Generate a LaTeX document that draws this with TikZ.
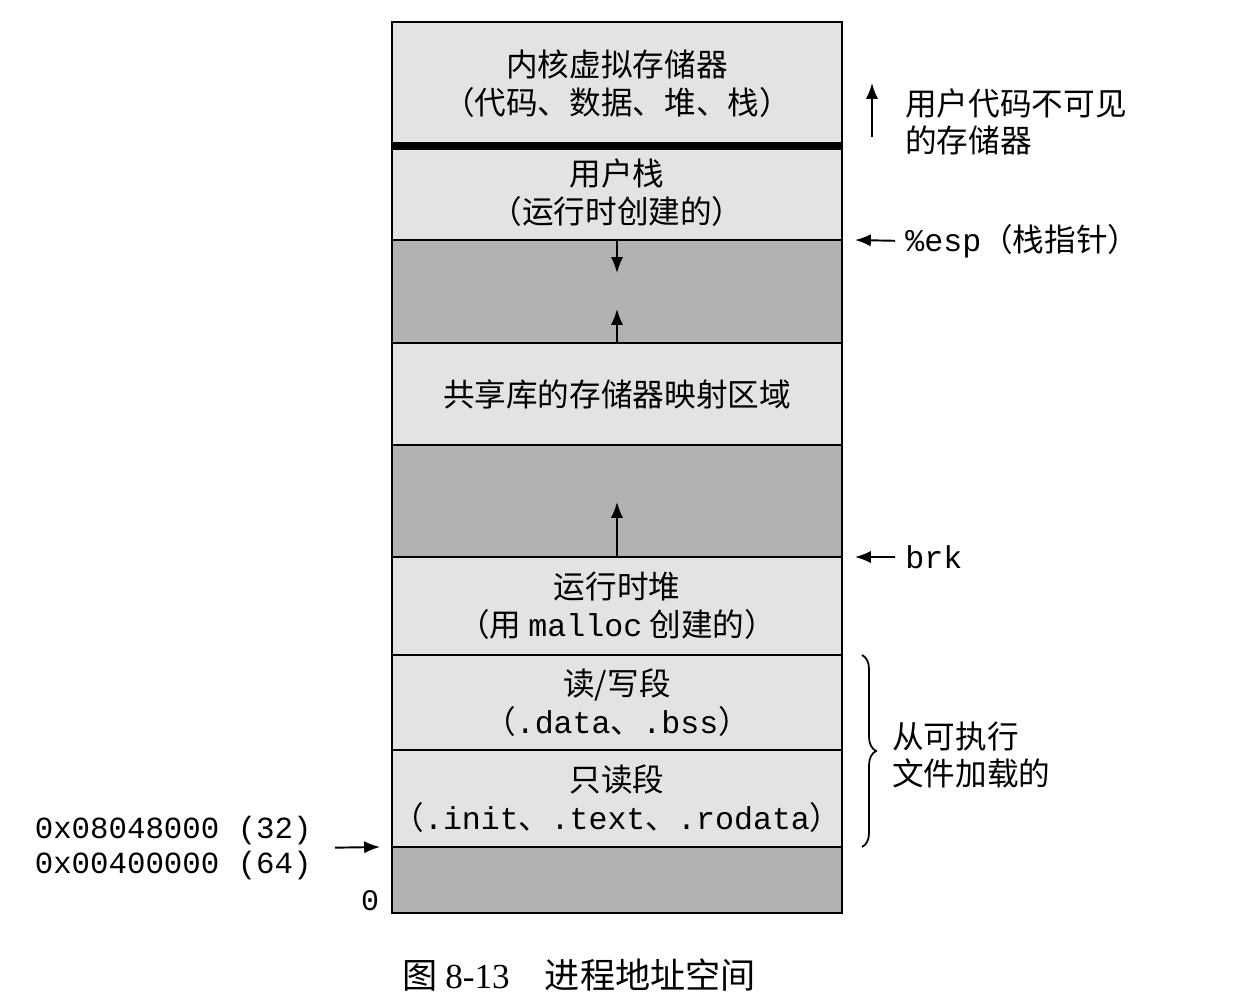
\documentclass[tikz,border=0pt]{standalone}
\usepackage{fontspec}
\setmainfont{Noto Sans CJK SC}
\setmonofont{Liberation Mono}
\newfontfamily\capserif{Liberation Serif}
\usetikzlibrary{positioning,decorations.pathreplacing,arrows.meta}

\definecolor{seglight}{gray}{0.89}
\definecolor{segdark}{gray}{0.70}

\tikzset{
    >={Latex[length=9pt,width=7pt]},
    seg/.style={draw, line width=1.2pt, fill=seglight, minimum width=9cm, inner sep=0pt, outer sep=0pt, align=center, font=\fontsize{18}{21.5}\selectfont},
    gap/.style={seg, fill=segdark},
    lbl/.style={anchor=west, align=left, inner sep=0pt, font=\fontsize{18}{21.5}\selectfont},
    arr/.style={->, line width=1.1pt},
}

\begin{document}
\begin{tikzpicture}
    \useasboundingbox (0,0) rectangle (24.68,-19.92);

    % segments, top to bottom
    \node[seg, anchor=north, minimum height=2.48cm] (kernel) at (12.34,-0.44) {内核虚拟存储器\\（代码、数据、堆、栈）};
    \node[seg, below=0pt of kernel, minimum height=1.88cm] (ustack) {用户栈\\（运行时创建的）};
    \node[gap, below=0pt of ustack, minimum height=2.06cm] (gap1) {};
    \node[seg, below=0pt of gap1, minimum height=2.04cm] (shlib) {共享库的存储器映射区域};
    \node[gap, below=0pt of shlib, minimum height=2.24cm] (gap2) {};
    \node[seg, below=0pt of gap2, minimum height=1.96cm] (heap) {运行时堆\\（用 \texttt{malloc} 创建的）};
    \node[seg, below=0pt of heap, minimum height=1.90cm] (rwseg) {读/写段\\（\texttt{.data}、\texttt{.bss}）};
    \node[seg, below=0pt of rwseg, minimum height=1.94cm] (roseg) {只读段\\（\texttt{.init}、\texttt{.text}、\texttt{.rodata}）};
    \node[gap, below=0pt of roseg, minimum height=1.32cm] (resv) {};

    \draw[line width=4pt] (kernel.south west) -- (kernel.south east);
    \draw[line width=1.6pt] (kernel.north west) rectangle (resv.south east);

    % growth arrows
    \coordinate (stackend) at ([yshift=-0.66cm]gap1.north);
    \coordinate (mmapend) at ([yshift=0.68cm]gap1.south);
    \coordinate (heapend) at ([yshift=1.1cm]gap2.south);
    \draw[arr] (gap1.north) -- (stackend);
    \draw[arr] (gap1.south) -- (mmapend);
    \draw[arr] (gap2.south) -- (heapend);

    % right side
    \node[lbl] (hidden) at (18.1,-2.44) {用户代码不可见\\的存储器};
    \coordinate (hidtop) at (17.44,-1.66);
    \coordinate (hidbot) at (17.44,-2.74);
    \draw[arr] (hidbot) -- (hidtop);

    \node[lbl] (esp) at (18.1,-4.82) {\texttt{\%esp}（栈指针）};
    \coordinate (esptip) at ([xshift=0.26cm]ustack.south east);
    \draw[arr, shorten <=0.2cm] (esp.west) -- (esptip);

    \node[lbl] (brk) at (18.1,-11.14) {\texttt{brk}};
    \coordinate (brktip) at ([xshift=0.26cm]heap.north east);
    \draw[arr, shorten <=0.2cm] (brk.west) -- (brktip);

    \draw[decorate, decoration={brace, amplitude=8pt}, line width=1pt] ([xshift=0.4cm]rwseg.north east) -- ([xshift=0.4cm]roseg.south east);
    \node[lbl] (loaded) at (17.84,-15.1) {从可执行\\文件加载的};

    % left side
    \node[anchor=east, align=left, inner sep=0pt, font=\ttfamily\fontsize{17.5}{20}\selectfont] (addr) at (6.24,-16.96) {0x08048000 (32)\\0x00400000 (64)};
    \coordinate (addrtip) at ([xshift=-0.24cm]resv.north west);
    \draw[arr, shorten <=0.46cm] (addr.east) -- (addrtip);
    \node[font=\ttfamily\fontsize{17}{20}\selectfont] (zero) at (7.4,-18.02) {0};

    % caption
    \node[font=\fontsize{20}{23}\selectfont] (caption) at (11.58,-19.5) {图 {\capserif 8-13}\quad 进程地址空间};
\end{tikzpicture}
\end{document}
